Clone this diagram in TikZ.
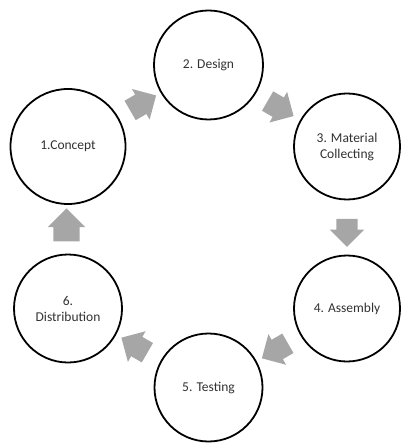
\documentclass[tikz,border=0pt]{standalone}
\usepackage{fontspec}
\setmainfont{Carlito}
\usetikzlibrary{shapes.arrows,calc}
\definecolor{arrgray}{RGB}{166,166,166}
\definecolor{txtgray}{RGB}{50,50,50}
\tikzset{
  stage/.style={circle, draw=black, line width=1.8pt, fill=white, inner sep=0pt,
    text=txtgray, align=center, font=\fontsize{13.5}{16}\selectfont},
  blockarrow/.style={single arrow, fill=arrgray, draw=none, inner sep=0pt,
    single arrow head extend=6.5pt, single arrow tip angle=90,
    minimum height=30pt},
}
\begin{document}
\begin{tikzpicture}[x=1pt,y=-1pt]
\path[use as bounding box] (0,0) rectangle (400,443);
\node[stage, minimum size=115pt] (c1) at (68,146.5) {1.Concept};
\node[stage, minimum size=109pt] (c2) at (208.5,65) {2. Design};
\node[stage, minimum size=106pt] (c3) at (347,146.5) {3. Material\\Collecting};
\node[stage, minimum size=106pt] (c4) at (347,308.5) {4. Assembly};
\node[stage, minimum size=108pt] (c5) at (208.5,387.5) {5. Testing};
\node[stage, minimum size=108pt] (c6) at (68,308.5) {6.\\Distribution};
\node[blockarrow, rotate=30] (a12) at ($(c1)!0.5!(c2)$) {\rule{0pt}{22pt}};
\node[blockarrow, rotate=-30] (a23) at ($(c2)!0.5!(c3)+(-2,0)$) {\rule{0pt}{22pt}};
\node[blockarrow, rotate=-90, minimum height=28pt] (a34) at ($(c3)!0.5!(c4)$) {\rule{0pt}{21pt}};
\node[blockarrow, rotate=-150] (a45) at ($(c4)!0.5!(c5)+(2,0)$) {\rule{0pt}{22pt}};
\node[blockarrow, rotate=150] (a56) at ($(c5)!0.5!(c6)+(1,0)$) {\rule{0pt}{22pt}};
\node[blockarrow, rotate=90, minimum height=33pt, single arrow head extend=5.5pt] (a61) at ($(c6)!0.5!(c1)+(-1.5,4)$) {\rule{0pt}{26pt}};
\end{tikzpicture}
\end{document}
